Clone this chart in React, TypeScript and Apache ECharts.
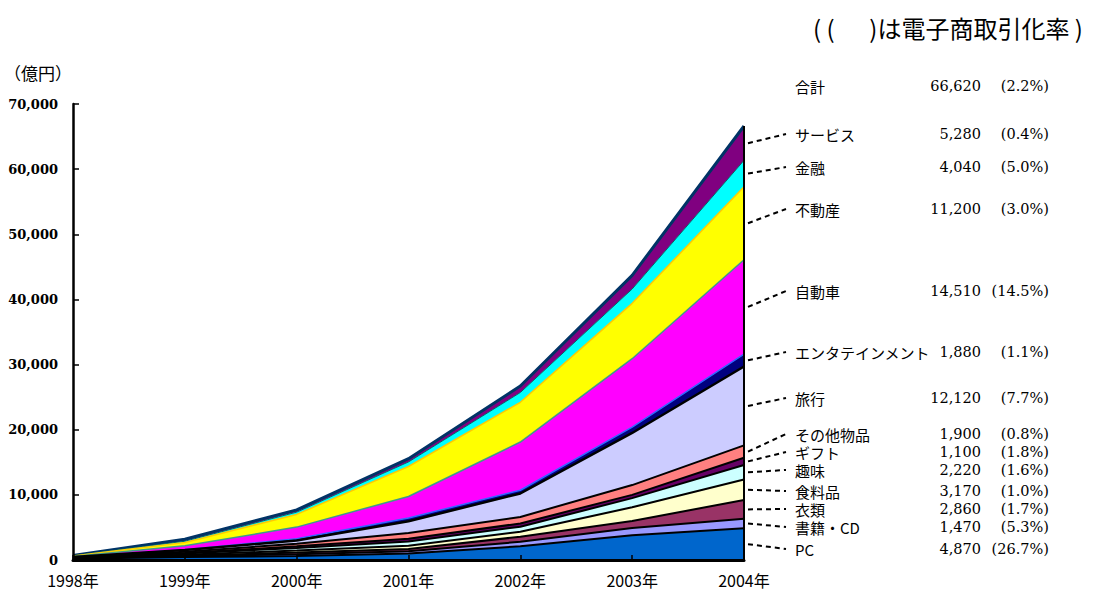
import React, { useEffect, useRef } from "react";
import * as echarts from "echarts";

// ---- data ----
const years = ["1998年", "1999年", "2000年", "2001年", "2002年", "2003年", "2004年"];
const categories = [
  "PC", "書籍・CD", "衣類", "食料品", "趣味", "ギフト", "その他物品",
  "旅行", "エンタテインメント", "自動車", "不動産", "金融", "サービス",
];
const pc = [200, 450, 600, 1000, 2100, 3800, 4870];
const books = [30, 120, 300, 350, 700, 1100, 1470];
const clothing = [20, 100, 250, 350, 770, 1100, 2860];
const food = [30, 120, 300, 500, 770, 2100, 3170];
const hobby = [50, 200, 400, 650, 770, 1400, 2220];
const gift = [20, 80, 250, 400, 500, 500, 1100];
const otherGoods = [50, 200, 400, 900, 1000, 1500, 1900];
const travel = [50, 250, 500, 1800, 3600, 8000, 12120];
const entertainment = [20, 60, 250, 500, 500, 900, 1880];
const automobile = [50, 600, 1800, 3300, 7400, 10500, 14510];
const realEstate = [100, 500, 1950, 4600, 6100, 8500, 11200];
const finance = [30, 200, 350, 700, 1500, 2200, 4040];
const services = [30, 300, 350, 500, 1000, 2100, 5280];
const ecRates = ["(26.7%)", "(5.3%)", "(1.7%)", "(1.0%)", "(1.6%)", "(1.8%)", "(0.8%)",
  "(7.7%)", "(1.1%)", "(14.5%)", "(3.0%)", "(5.0%)", "(0.4%)"];
const totalName = "合計";
const totalRate = "(2.2%)";
const titleText = "( (　  )は電子商取引化率 )";
const unitText = "（億円）";
const yTicks = { min: 0, max: 70000, interval: 10000 };

const seriesValues = [pc, books, clothing, food, hobby, gift, otherGoods, travel,
  entertainment, automobile, realEstate, finance, services];

// ---- styles / layout ----
const fillColors = ["#0066CC", "#9999FF", "#993366", "#FFFFCC", "#CCFFFF", "#660066", "#FF8080",
  "#CCCCFF", "#000080", "#FF00FF", "#FFFF00", "#00FFFF", "#800080"];
const lineColors = ["#000", "#000", "#000", "#000", "#000", "#000", "#000",
  "#000", "#3366FF", "#3f9a8a", "#FFCC00", "#006666", "#003366"];
const lineWidths = [2, 2, 2, 2, 2, 2, 2, 2.5, 1.5, 1.5, 1.5, 1, 3];
const labelY = [549, 527, 509, 491, 470, 452, 434, 398, 352, 291, 209, 167, 134];
const totalY = 86;
const nameX = 795;
const valueX = 981;
const rateX = 1049;
const SANS = "'Noto Sans CJK JP', 'Noto Sans', sans-serif";
const SERIF = "'DejaVu Serif', 'Liberation Serif', serif";

const fmt = (v: number) => v.toLocaleString("en-US");

export default function App() {
  const ref = useRef<HTMLDivElement>(null);
  useEffect(() => {
    if (!ref.current) return;
    const chart = echarts.init(ref.current, undefined, { renderer: "svg" });
    const total = years.map((_, i) => seriesValues.reduce((s, arr) => s + arr[i], 0));

    const textEls: any[] = [];
    const addText = (text: string, x: number, y: number, align: string, font: string, size: number) =>
      textEls.push({
        type: "text", x, y, z: 100,
        style: { text, fill: "#000", font: `${size}px ${font}`, textAlign: align, textVerticalAlign: "middle" },
      });
    addText(titleText, 813, 27, "left", SANS, 24);
    addText(unitText, 4, 72, "left", SANS, 17);
    addText(totalName, nameX, totalY, "left", SANS, 15);
    addText(fmt(total[total.length - 1]), valueX, totalY, "right", SERIF, 14.5);
    addText(totalRate, rateX, totalY, "right", SERIF, 14.5);
    categories.forEach((c, i) => {
      const v = seriesValues[i][seriesValues[i].length - 1];
      addText(c, nameX, labelY[i], "left", SANS, 15);
      addText(fmt(v), valueX, labelY[i], "right", SERIF, 14.5);
      addText(ecRates[i], rateX, labelY[i], "right", SERIF, 14.5);
    });

    const option: any = {
      animation: false,
      backgroundColor: "#fff",
      grid: { left: 73, right: 353, top: 104, bottom: 33, containLabel: false },
      xAxis: {
        type: "category",
        data: years,
        boundaryGap: false,
        axisLine: { lineStyle: { color: "#000", width: 3 } },
        axisTick: { inside: true, length: 5, lineStyle: { color: "#000", width: 1.5 } },
        axisLabel: { color: "#000", fontFamily: SANS, fontSize: 16, margin: 12 },
        z: 20,
      },
      yAxis: {
        type: "value",
        min: yTicks.min, max: yTicks.max, interval: yTicks.interval,
        axisLine: { show: true, lineStyle: { color: "#000", width: 2.5 } },
        axisTick: { show: true, inside: true, length: 6, lineStyle: { color: "#000", width: 1.5 } },
        splitLine: { show: false },
        axisLabel: {
          color: "#000", fontFamily: SERIF, fontWeight: "bold", fontSize: 13, margin: 15,
          formatter: (v: number) => fmt(v),
        },
        z: 20,
      },
      series: categories.map((c, i) => ({
        name: c,
        type: "line",
        stack: "total",
        data: seriesValues[i],
        symbol: "none",
        z: 2 + (categories.length - i) * 0.01,
        lineStyle: { color: lineColors[i], width: lineWidths[i] },
        areaStyle: { color: fillColors[i], opacity: 1 },
        itemStyle: { color: fillColors[i] },
      })),
      graphic: textEls,
    };
    chart.setOption(option);

    // leader lines and right edge, positioned through the chart's own scales
    const last = years.length - 1;
    const lineEls: any[] = [];
    let cum = 0;
    const [xr, y0] = chart.convertToPixel({ gridIndex: 0 }, [last, 0]) as number[];
    categories.forEach((_, i) => {
      const lo = cum;
      cum += seriesValues[i][last];
      const mid = (lo + cum) / 2;
      const p = chart.convertToPixel({ gridIndex: 0 }, [last, mid]) as number[];
      lineEls.push({
        type: "line", z: 50,
        shape: { x1: p[0] + 4, y1: p[1], x2: 786, y2: labelY[i] },
        style: { stroke: "#000", lineWidth: 2, lineDash: [5, 4] },
      });
    });
    const top = chart.convertToPixel({ gridIndex: 0 }, [last, cum]) as number[];
    lineEls.push({
      type: "line", z: 50,
      shape: { x1: xr, y1: y0, x2: xr, y2: top[1] },
      style: { stroke: "#000", lineWidth: 2 },
    });
    chart.setOption({ graphic: [...textEls, ...lineEls] });

    return () => chart.dispose();
  }, []);

  return (
    <div
      ref={ref}
      style={{ position: "absolute", left: 0, top: 0, width: 1097, height: 593, background: "#fff" }}
    />
  );
}
